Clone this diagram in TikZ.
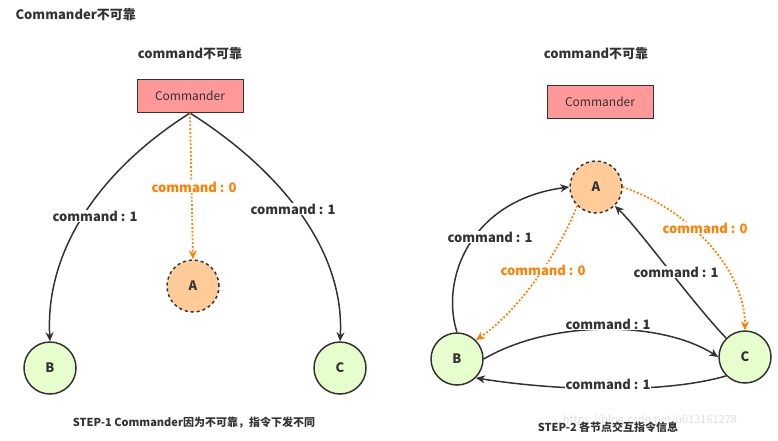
\documentclass[tikz,border=0pt]{standalone}
\usepackage{fontspec}
\setmainfont{Noto Sans CJK SC}
\usetikzlibrary{arrows.meta}
\definecolor{pinkbox}{HTML}{FF9999}
\definecolor{orangefill}{HTML}{FFCC99}
\definecolor{greenfill}{HTML}{E6FFCC}
\definecolor{orangeline}{HTML}{FF8000}
\definecolor{dark}{HTML}{333333}
\begin{document}
\begin{tikzpicture}[x=1pt,y=-1pt,
  box/.style={draw=dark,line width=1pt,fill=pinkbox,minimum width=106pt,minimum height=33pt,font=\fontsize{12}{14}\selectfont,text=dark},
  good/.style={circle,draw=dark,line width=1.5pt,fill=greenfill,minimum size=52pt,font=\bfseries\fontsize{13}{15}\selectfont,text=dark},
  bad/.style={good,fill=orangefill,dashed},
  lbl/.style={font=\bfseries\fontsize{13}{15}\selectfont,text=dark},
  olbl/.style={font=\bfseries\fontsize{13}{15}\selectfont,text=orangeline},
  arr/.style={draw=dark,line width=1.5pt,-{Stealth[length=9pt,width=8pt]}},
  oarr/.style={draw=orangeline,line width=1.8pt,dotted,-{Stealth[length=9pt,width=8pt]}}]
\useasboundingbox (0,0) rectangle (778,440);
\node[lbl,anchor=west] (title) at (12,15) {Commander不可靠};
\node[lbl] (t1) at (190,54) {command不可靠};
\node[lbl] (t2) at (596,54) {command不可靠};
% left
\node[box] (cmd) at (190,96) {Commander};
\node[bad] (A1) at (193,286) {A};
\node[good] (B1) at (50,368) {B};
\node[good] (C1) at (340,368) {C};
\draw[arr] (cmd.south) .. controls (100,170) and (45,250) .. (B1.north);
\draw[arr] (cmd.south) .. controls (280,170) and (345,250) .. (C1.north);
\draw[oarr] (cmd.south) -- (A1.north);
\node[lbl,fill=white,inner sep=1pt] (l1) at (95,216) {command : 1};
\node[lbl,fill=white,inner sep=1pt] (l2) at (293,209) {command : 1};
\node[olbl,fill=white,inner sep=1pt] (l3) at (194,187) {command : 0};
% right
\node[box] (cmd2) at (600,102) {Commander};
\node[bad] (A2) at (596,187) {A};
\node[good] (B2) at (457,359) {B};
\node[good] (C2) at (745,357) {C};
\draw[arr] (B2.north) .. controls (440,280) and (470,200) .. (A2.west);
\draw[oarr] (A2.south west) .. controls (560,250) and (520,310) .. (B2.north east);
\draw[oarr] (A2.east) .. controls (690,210) and (745,270) .. (C2.north);
\draw[arr] (C2.north west) .. controls (690,300) and (640,230) .. (A2.south east);
\draw[arr] (B2.east) .. controls (550,320) and (660,320) .. (C2.west);
\draw[arr] (C2.south west) .. controls (660,395) and (550,390) .. (B2.south east);
\node[lbl,fill=white,inner sep=1pt] (r1) at (490,237) {command : 1};
\node[olbl,fill=white,inner sep=1pt] (r2) at (543,270) {command : 0};
\node[olbl,fill=white,inner sep=1pt] (r3) at (705,228) {command : 0};
\node[lbl,fill=white,inner sep=1pt] (r4) at (676,272) {command : 1};
\node[lbl,fill=white,inner sep=1pt] (r5) at (608,324) {command : 1};
\node[lbl,fill=white,inner sep=1pt] (r6) at (608,384) {command : 1};
\node[font=\fontsize{11}{13}\selectfont,text=black!12] (wm) at (650,420) {https://blog.csdn.net/u013161278};
\node[font=\bfseries\fontsize{11}{13}\selectfont,text=dark] (c1) at (194,423) {STEP-1 Commander因为不可靠，指令下发不同};
\node[font=\bfseries\fontsize{11}{13}\selectfont,text=dark] (c2) at (608,427) {STEP-2 各节点交互指令信息};
\end{tikzpicture}
\end{document}
